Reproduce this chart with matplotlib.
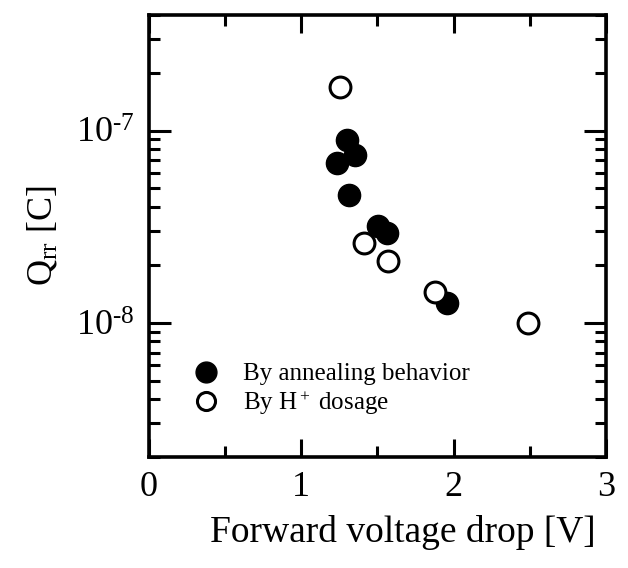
import matplotlib
matplotlib.use('Agg')
import matplotlib.pyplot as plt
from matplotlib.lines import Line2D
from matplotlib.ticker import LogLocator, FuncFormatter, MultipleLocator, NullFormatter
import numpy as np

plt.rcParams['font.family'] = ['Liberation Serif', 'DejaVu Serif']
plt.rcParams['mathtext.fontset'] = 'custom'
plt.rcParams['mathtext.rm'] = 'Liberation Serif'
plt.rcParams['mathtext.it'] = 'Liberation Serif:italic'

# annealing behavior (filled)
anneal_v = [1.235, 1.30, 1.355, 1.316, 1.507, 1.566, 1.954]
anneal_q = [6.75e-8, 8.98e-8, 7.42e-8, 4.6e-8, 3.19e-8, 2.92e-8, 1.27e-8]

# H+ dosage (open)
dose_v = [1.257, 1.414, 1.572, 1.875, 2.487]
dose_q = [1.69e-7, 2.6e-8, 2.09e-8, 1.45e-8, 1.0e-8]

fig = plt.figure(figsize=(6.28, 5.68), dpi=100)
ax = fig.add_axes([0.237, 0.195, 0.728, 0.779])

ax.plot(anneal_v, anneal_q, 'o', color='black', markersize=16, linestyle='none')
ax.plot(dose_v, dose_q, 'o', markerfacecolor='white', markeredgecolor='black',
        markeredgewidth=2.2, markersize=15, linestyle='none')

ax.set_yscale('log')
ax.set_xlim(0, 3)
ax.set_ylim(2e-9, 4e-7)


def sci_label(val, pos):
    e = int(round(np.log10(val)))
    return '10$^{\\mathrm{\u2010' + str(abs(e)) + '}}$'


ax.xaxis.set_major_locator(MultipleLocator(1))
ax.xaxis.set_minor_locator(MultipleLocator(0.5))
ax.yaxis.set_major_locator(LogLocator(base=10))
ax.yaxis.set_major_formatter(FuncFormatter(sci_label))
ax.yaxis.set_minor_locator(LogLocator(base=10, subs=range(2, 10)))
ax.yaxis.set_minor_formatter(NullFormatter())

for s in ax.spines.values():
    s.set_linewidth(2.6)

ax.tick_params(which='both', direction='in', top=True, right=True, width=2.2)
ax.tick_params(which='major', length=13, labelsize=26, pad=10)
ax.tick_params(which='minor', length=8)
ax.tick_params(axis='y', which='major', length=16)

ax.set_xlabel('Forward voltage drop [V]', fontsize=27, labelpad=6)
ax.xaxis.set_label_coords(0.555, -0.13)
ax.set_ylabel(r'Q$_{\rm rr}$ [C]', fontsize=26, labelpad=12)

handles = [
    Line2D([], [], marker='o', color='black', linestyle='none', markersize=15),
    Line2D([], [], marker='o', markerfacecolor='white', markeredgecolor='black',
           markeredgewidth=2.2, linestyle='none', markersize=13),
]
ax.legend(handles, ['By annealing behavior', r'By H$^+$ dosage'],
          loc='lower left', bbox_to_anchor=(0.042, 0.04), frameon=False,
          fontsize=18, handletextpad=0.9, labelspacing=0.15, handlelength=1.2)

fig.savefig('out.png', dpi=100)
